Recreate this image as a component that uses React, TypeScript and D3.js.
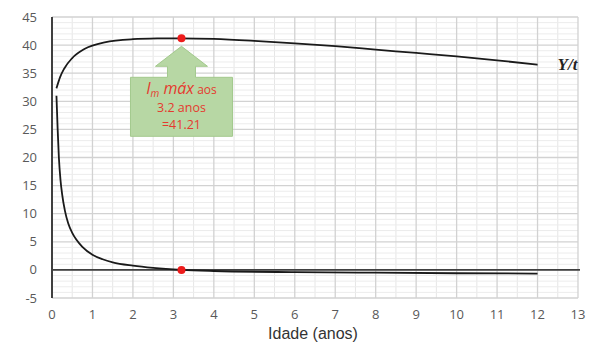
import * as d3 from 'd3'

// tick labels
const xTicks = [0, 1, 2, 3, 4, 5, 6, 7, 8, 9, 10, 11, 12, 13]
const yTicks = [-5, 0, 5, 10, 15, 20, 25, 30, 35, 40, 45]

// Y/t (mean increment) curve
const meanAge = [0.11, 0.2, 0.3, 0.5, 0.8, 1.3, 2, 2.6, 3.2, 4, 5, 6, 7, 8, 9, 10, 11, 12]
const meanValue = [32.3, 34.3, 35.8, 37.7, 39.3, 40.5, 41.05, 41.18, 41.21, 41.1, 40.75, 40.3, 39.8, 39.2, 38.6, 38.0, 37.3, 36.5]

// marginal increment curve
const margAge = [0.11, 0.14, 0.17, 0.21, 0.25, 0.32, 0.4, 0.5, 0.6, 0.75, 1, 1.25, 1.5, 2, 2.5, 3.2, 4, 6, 8, 10, 12]
const margValue = [31, 25, 20, 16, 13.5, 10.5, 8.3, 6.6, 5.4, 4.1, 2.7, 1.9, 1.35, 0.75, 0.35, 0, -0.2, -0.4, -0.5, -0.6, -0.65]

const maxAge = 3.2
const maxValue = 41.21

const W = 592
const H = 349
const margin = { left: 52, right: 14, top: 17, bottom: 51 }

export default function App() {
  const x = d3.scaleLinear().domain([0, 13]).range([margin.left, W - margin.right])
  const y = d3.scaleLinear().domain([-5, 45]).range([H - margin.bottom, margin.top])

  const line = d3
    .line<[number, number]>()
    .x(d => x(d[0]))
    .y(d => y(d[1]))
    .curve(d3.curveMonotoneX)

  const meanPts = meanAge.map((a, i) => [a, meanValue[i]] as [number, number])
  const margPts = margAge.map((a, i) => [a, margValue[i]] as [number, number])

  const minorX = d3.range(0.5, 13, 1)
  const minorY = d3.range(-5, 46, 1).filter(v => v % 5 !== 0)

  // callout arrow anchored under the max point
  const cx = x(maxAge)
  const cy = y(maxValue)
  const tipY = cy + 8
  const callout = [
    [cx, tipY],
    [cx + 26, tipY + 20],
    [cx + 14, tipY + 20],
    [cx + 14, tipY + 31],
    [cx + 51, tipY + 31],
    [cx + 51, tipY + 90],
    [cx - 51, tipY + 90],
    [cx - 51, tipY + 31],
    [cx - 14, tipY + 31],
    [cx - 14, tipY + 20],
    [cx - 26, tipY + 20],
  ]

  return (
    <div style={{ position: 'absolute', left: 0, top: 0 }}>
      <svg width={W} height={H} style={{ display: 'block', background: '#fff' }}>
        {/* minor grid */}
        {minorX.map(v => (
          <line key={'mx' + v} x1={x(v)} x2={x(v)} y1={y(45)} y2={y(-5)} stroke="#e6e6e6" strokeWidth={1} />
        ))}
        {minorY.map(v => (
          <line key={'my' + v} x1={x(0)} x2={x(13)} y1={y(v)} y2={y(v)} stroke="#ececec" strokeWidth={1} />
        ))}
        {/* major grid */}
        {xTicks.map(v => (
          <line key={'gx' + v} x1={x(v)} x2={x(v)} y1={y(45)} y2={y(-5)} stroke="#d2d2d2" strokeWidth={1.3} />
        ))}
        {yTicks.map(v => (
          <line key={'gy' + v} x1={x(0)} x2={x(13)} y1={y(v)} y2={y(v)} stroke="#d2d2d2" strokeWidth={1.3} />
        ))}

        {/* axes */}
        <line x1={x(0)} x2={x(13) + 2} y1={y(0)} y2={y(0)} stroke="#404040" strokeWidth={1.8} />
        <line x1={x(0)} x2={x(0)} y1={y(45)} y2={y(-5)} stroke="#404040" strokeWidth={2} />

        {yTicks.map(v => (
          <text
            key={'ty' + v}
            x={x(0) - 15}
            y={y(v)}
            dy="0.35em"
            textAnchor="end"
            fontFamily="'Open Sans', sans-serif"
            fontSize={13}
            fill="#595959"
          >
            {v}
          </text>
        ))}
        {xTicks.map(v => (
          <text
            key={'tx' + v}
            x={x(v)}
            y={y(-5) + 16}
            dy="0.35em"
            textAnchor="middle"
            fontFamily="'Open Sans', sans-serif"
            fontSize={13}
            fill="#595959"
          >
            {v}
          </text>
        ))}
        <text
          x={(x(0) + x(13)) / 2 - 2}
          y={y(-5) + 41}
          textAnchor="middle"
          fontFamily="'Liberation Sans', Arial, sans-serif"
          fontSize={16}
          fill="#333"
        >
          Idade (anos)
        </text>

        {/* curves */}
        <path d={line(margPts) || ''} fill="none" stroke="#1a1a1a" strokeWidth={1.8} />
        <path d={line(meanPts) || ''} fill="none" stroke="#1a1a1a" strokeWidth={1.8} />

        <text
          x={x(12) + 20}
          y={y(36.5) + 5}
          fontFamily="'Liberation Serif', 'Times New Roman', serif"
          fontStyle="italic"
          fontWeight="bold"
          fontSize={17}
          fill="#222"
        >
          Y/t
        </text>

        {/* callout */}
        <polygon
          points={callout.map(p => p.join(',')).join(' ')}
          fill="#b7d7a4"
          stroke="#a3c98d"
          strokeWidth={1}
        />
        <text
          x={cx}
          y={tipY + 48}
          textAnchor="middle"
          fontFamily="'Open Sans', sans-serif"
          fill="#e53a2f"
        >
          <tspan fontStyle="italic" fontSize={16}>I</tspan>
          <tspan fontStyle="italic" fontSize={10} dy={3}>m</tspan>
          <tspan fontStyle="italic" fontSize={16} dy={-3}> máx</tspan>
          <tspan fontSize={12}> aos</tspan>
        </text>
        <text x={cx} y={tipY + 66} textAnchor="middle" fontFamily="'Open Sans', sans-serif" fontSize={12.5} fill="#e53a2f">
          3.2 anos
        </text>
        <text x={cx} y={tipY + 83} textAnchor="middle" fontFamily="'Open Sans', sans-serif" fontSize={12.5} fill="#e53a2f">
          =41.21
        </text>

        {/* red points */}
        <circle cx={cx} cy={cy} r={4} fill="#ee1c1c" />
        <circle cx={x(maxAge)} cy={y(0)} r={4} fill="#ee1c1c" />
      </svg>
    </div>
  )
}
